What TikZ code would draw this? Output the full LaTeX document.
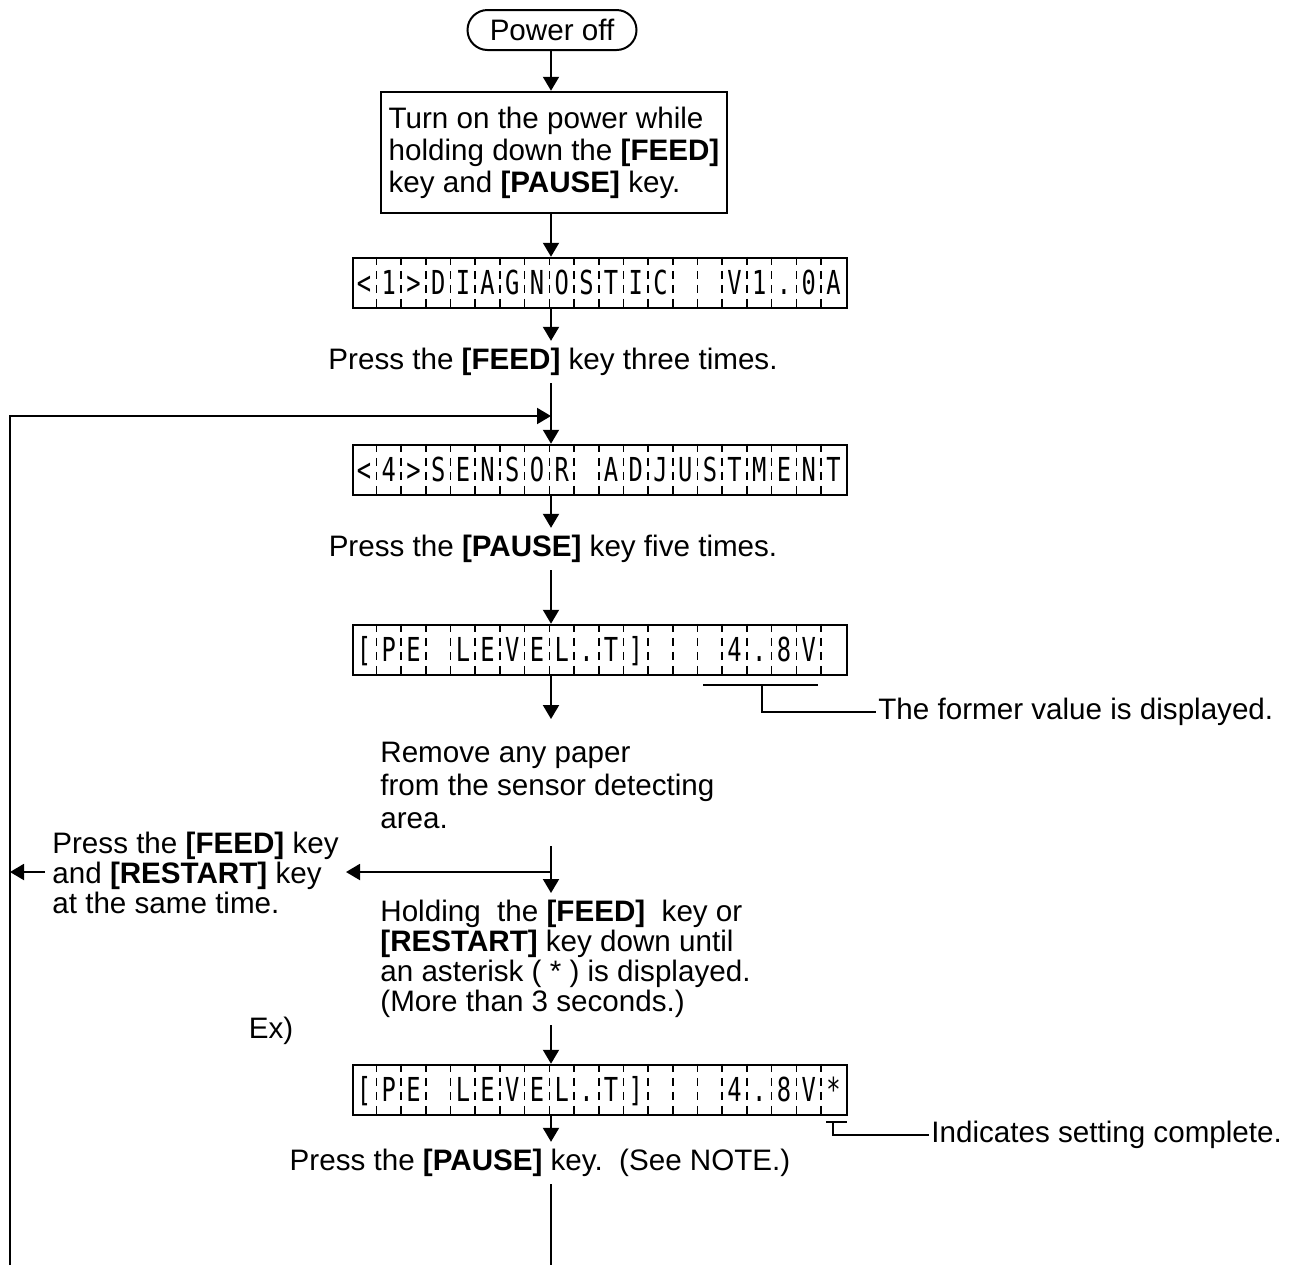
\documentclass[tikz,border=0pt]{standalone}
\usepackage{fontspec}
\usepackage{graphicx}
\setmainfont{Liberation Sans}
\newfontfamily\lcdfont{DejaVu Sans Mono}
\usetikzlibrary{arrows.meta,positioning,calc}

% one LCD line: name, y, list of 20 cells
\newcommand\lcdpanel[3]{%
  \node[lcd] (#1) at (600,#2) {};
  \foreach \c [count=\i from 0] in {#3}
    \node[lcdchar] at ($(#1.west)+(\i*24.7+12.35,11.5)$) {\scalebox{0.72}[1]{\c}};
  \foreach \i in {1,...,19}
    \draw[lcdsep] ($(#1.north west)+(\i*24.7,0)$) -- ($(#1.south west)+(\i*24.7,0)$);
}

\begin{document}
\begin{tikzpicture}[x=0.5pt,y=-0.5pt,
  txt/.style={font=\fontsize{14.8}{16}\selectfont, inner sep=3.5pt},
  arr/.style={line width=1pt, -{Triangle[length=7pt,width=8pt]}},
  ln/.style={line width=1pt},
  lcd/.style={draw, line width=1.25pt, minimum width=247pt, minimum height=25pt, inner sep=0pt},
  lcdchar/.style={font=\lcdfont\fontsize{16.5}{16.5}\selectfont, inner sep=0pt, anchor=base},
  lcdsep/.style={line width=0.8pt, dash pattern=on 4pt off 3pt}]
\useasboundingbox (0,0) rectangle (1291,1265);
\coordinate (ax) at (551,0);

\node[txt, draw, line width=1pt, rounded corners=10pt, minimum width=84.5pt, minimum height=20pt] (off) at (552,30) {Power off};
\node[txt, draw, line width=1.25pt, align=left, minimum width=173pt, minimum height=60.5pt] (turnon) at (554,152.5)
  {Turn on the power while\\holding down the \textbf{[FEED]}\\key and \textbf{[PAUSE]} key.};
\lcdpanel{lcd1}{283}{<,1,>,D,I,A,G,N,O,S,T,I,C,{},{},V,1,.,0,A}
\node[txt] (feed3) at (553,362) {Press the \textbf{[FEED]} key three times.};
\lcdpanel{lcd2}{470}{<,4,>,S,E,N,S,O,R,{},A,D,J,U,S,T,M,E,N,T}
\node[txt] (pause5) at (553,549) {Press the \textbf{[PAUSE]} key five times.};
\lcdpanel{lcd3}{650}{[,P,E,{},L,E,V,E,L,.,T,],{},{},{},4,.,8,V,{}}
\node[txt, anchor=west, inner sep=1pt] (former) at (876,712) {The former value is displayed.};
\node[txt, align=left, anchor=north west, font=\fontsize{14.8}{16.5}\selectfont] (remove) at (373,735)
  {Remove any paper\\from the sensor detecting\\area.};
\node[txt, align=left, anchor=north west, font=\fontsize{14.8}{15}\selectfont] (pressboth) at (45,825)
  {Press the \textbf{[FEED]} key\\and \textbf{[RESTART]} key\\at the same time.};
\node[txt, align=left, anchor=north west, font=\fontsize{14.8}{15}\selectfont] (holding) at (373,893)
  {Holding~ the \textbf{[FEED]}~ key or\\\textbf{[RESTART]} key down until\\an asterisk ( * ) is displayed.\\(More than 3 seconds.)};
\node[txt] (ex) at (271,1031) {Ex)};
\lcdpanel{lcd4}{1090}{[,P,E,{},L,E,V,E,L,.,T,],{},{},{},4,.,8,V,*}
\node[txt, anchor=west, inner sep=1pt] (indicates) at (929,1135) {Indicates setting complete.};
\node[txt] (pausekey) at (540,1163) {Press the \textbf{[PAUSE]} key.\ \ (See NOTE.)};

% main flow
\draw[arr] (off.south -| ax) -- (turnon.north -| ax);
\draw[arr] (turnon.south -| ax) -- (lcd1.north -| ax);
\draw[arr] (lcd1.south -| ax) -- (feed3.north -| ax);
\draw[arr] (feed3.south -| ax) -- (lcd2.north -| ax);
\draw[arr] (lcd2.south -| ax) -- (pause5.north -| ax);
\draw[arr] (pause5.south -| ax) -- (lcd3.north -| ax);
\draw[arr, shorten >=8pt] (lcd3.south -| ax) -- (remove.north -| ax);
\draw[arr, shorten <=5pt] (remove.south -| ax) -- (holding.north -| ax);
\draw[arr] (holding.south -| ax) -- (lcd4.north -| ax);
\draw[arr] (lcd4.south -| ax) -- (pausekey.north -| ax);
\coordinate (exit) at (551,1265);
\draw[ln] (pausekey.south -| ax) -- (exit);

% retry branch and loop back
\coordinate (split) at (551,872);
\coordinate (loopbot) at (10,1265);
\coordinate (looptop) at (10,416);
\draw[arr] (split) -- (split -| pressboth.east);
\draw[arr] (pressboth.west |- split) -- (split -| loopbot);
\draw[arr] (loopbot) -- (looptop) -- (looptop -| ax);

% value markers
\draw[ln] (703,685) -- (818,685);
\coordinate (ulmid) at (762,685);
\draw[ln] (ulmid) |- (former.west);
\draw[ln] (826,1122) -- (847,1122);
\coordinate (starmk) at (833,1122);
\draw[ln] (starmk) |- (indicates.west);
\end{tikzpicture}
\end{document}
